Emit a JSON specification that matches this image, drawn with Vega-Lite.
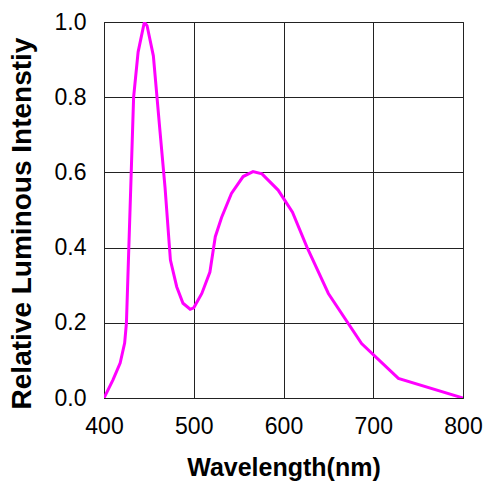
{
  "$schema": "https://vega.github.io/schema/vega-lite/v6.json",
  "width": 359,
  "height": 376,
  "autosize": {"type": "none"},
  "padding": {"left": 104, "top": 22, "right": 30, "bottom": 86},
  "background": "white",
  "config": {
    "view": {"stroke": "#222", "strokeWidth": 1},
    "font": "Liberation Sans"
  },
  "data": {
    "values": [
      {"wl": 400, "v": 0},
      {"wl": 410, "v": 0.048},
      {"wl": 418, "v": 0.093},
      {"wl": 423, "v": 0.146},
      {"wl": 425, "v": 0.2},
      {"wl": 433, "v": 0.8},
      {"wl": 438, "v": 0.92},
      {"wl": 445, "v": 1.0},
      {"wl": 448, "v": 0.99},
      {"wl": 455, "v": 0.91},
      {"wl": 462, "v": 0.72},
      {"wl": 468, "v": 0.56},
      {"wl": 474, "v": 0.367},
      {"wl": 481, "v": 0.296},
      {"wl": 488, "v": 0.252},
      {"wl": 496, "v": 0.236},
      {"wl": 500, "v": 0.24},
      {"wl": 509, "v": 0.278},
      {"wl": 518, "v": 0.335},
      {"wl": 524, "v": 0.429},
      {"wl": 531, "v": 0.48},
      {"wl": 542, "v": 0.544},
      {"wl": 555, "v": 0.589},
      {"wl": 566, "v": 0.602},
      {"wl": 576, "v": 0.596},
      {"wl": 594, "v": 0.553},
      {"wl": 610, "v": 0.494},
      {"wl": 626, "v": 0.402},
      {"wl": 650, "v": 0.278},
      {"wl": 687, "v": 0.145},
      {"wl": 728, "v": 0.052},
      {"wl": 800, "v": 0}
    ]
  },
  "mark": {"type": "line", "color": "#ff00ff", "strokeWidth": 3, "clip": true},
  "encoding": {
    "x": {
      "field": "wl",
      "type": "quantitative",
      "scale": {"domain": [400, 800], "nice": false, "zero": false},
      "axis": {
        "values": [400, 500, 600, 700, 800],
        "title": "Wavelength(nm)",
        "titleFont": "Liberation Sans",
        "titleFontSize": 25,
        "titleFontWeight": "bold",
        "titleColor": "black",
        "titleY": 77,
        "titleBaseline": "alphabetic",
        "labelFont": "Liberation Sans",
        "labelFontSize": 23,
        "labelColor": "black",
        "labelPadding": 17,
        "ticks": false,
        "domainColor": "#222",
        "grid": true,
        "gridColor": "#222",
        "gridOpacity": 1,
        "gridWidth": 1,
        "labelFlush": false
      }
    },
    "y": {
      "field": "v",
      "type": "quantitative",
      "scale": {"domain": [0, 1], "nice": false},
      "axis": {
        "values": [0, 0.2, 0.4, 0.6, 0.8, 1.0],
        "format": ".1f",
        "title": "Relative Luminous Intenstiy",
        "titleFont": "Liberation Sans",
        "titleFontSize": 28,
        "titleFontWeight": "bold",
        "titleColor": "black",
        "titleX": -82,
        "titleY": 201,
        "titleAngle": -90,
        "titleAlign": "center",
        "titleBaseline": "middle",
        "labelFont": "Liberation Sans",
        "labelFontSize": 23,
        "labelColor": "black",
        "labelPadding": 18,
        "ticks": false,
        "domainColor": "#222",
        "grid": true,
        "gridColor": "#222",
        "gridOpacity": 1,
        "gridWidth": 1,
        "labelFlush": false
      }
    }
  }
}
